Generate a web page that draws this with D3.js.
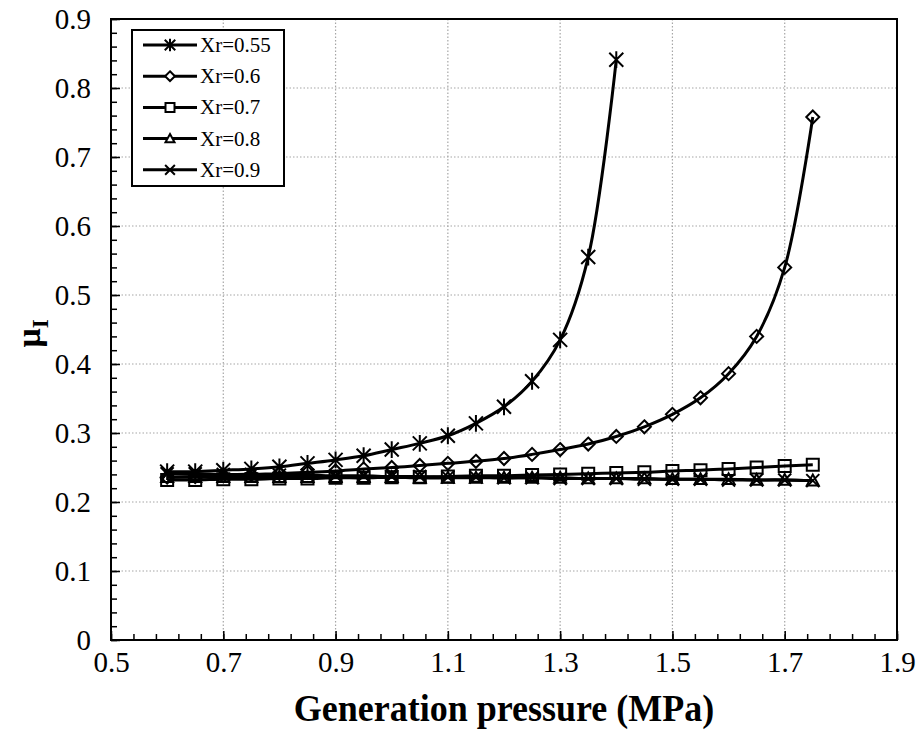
<!DOCTYPE html>
<html>
<head>
<meta charset="utf-8">
<script src="https://cdn.jsdelivr.net/npm/d3@7"></script>
<style>
    body { margin: 0; background: #fff; }
    svg { display: block; }
    svg text { font-family: "Liberation Serif", "Times New Roman", serif; }
</style>
</head>
<body>
<div id="chart"></div>
<script>
// Data
const pressureLong = [0.6, 0.65, 0.7, 0.75, 0.8, 0.85, 0.9, 0.95, 1.0, 1.05, 1.1, 1.15,
    1.2, 1.25, 1.3, 1.35, 1.4, 1.45, 1.5, 1.55, 1.6, 1.65, 1.7, 1.75];
const pressureShort = [0.6, 0.65, 0.7, 0.75, 0.8, 0.85, 0.9, 0.95, 1.0, 1.05, 1.1, 1.15,
    1.2, 1.25, 1.3, 1.35, 1.4];

const xr055 = [0.244, 0.244, 0.246, 0.248, 0.251, 0.256, 0.261, 0.267, 0.276, 0.285, 0.296, 0.314,
    0.338, 0.375, 0.435, 0.555, 0.841];
const xr06 = [0.236, 0.237, 0.238, 0.240, 0.241, 0.243, 0.245, 0.248, 0.250, 0.253, 0.256, 0.259,
    0.263, 0.269, 0.276, 0.284, 0.295, 0.309, 0.327, 0.351, 0.386, 0.440, 0.540, 0.758];
const xr07 = [0.232, 0.232, 0.233, 0.233, 0.234, 0.234, 0.235, 0.235, 0.236, 0.236, 0.237, 0.238,
    0.238, 0.239, 0.240, 0.241, 0.242, 0.243, 0.245, 0.246, 0.248, 0.250, 0.252, 0.254];
const xr08 = [0.236, 0.236, 0.236, 0.236, 0.236, 0.236, 0.236, 0.236, 0.236, 0.235, 0.235, 0.235,
    0.235, 0.235, 0.235, 0.234, 0.234, 0.234, 0.233, 0.233, 0.233, 0.232, 0.232, 0.231];
const xr09 = [0.241, 0.241, 0.240, 0.240, 0.239, 0.239, 0.238, 0.238, 0.237, 0.237, 0.236, 0.236,
    0.235, 0.235, 0.234, 0.234, 0.234, 0.233, 0.233, 0.233, 0.232, 0.232, 0.232, 0.231];

const seriesNames = ['Xr=0.55', 'Xr=0.6', 'Xr=0.7', 'Xr=0.8', 'Xr=0.9'];
const seriesMarkers = ['asterisk', 'diamond', 'square', 'triangle', 'cross'];
const xTicks = [0.5, 0.7, 0.9, 1.1, 1.3, 1.5, 1.7, 1.9];
const yTicks = [0, 0.1, 0.2, 0.3, 0.4, 0.5, 0.6, 0.7, 0.8, 0.9];

const series = [
    {name: seriesNames[0], marker: seriesMarkers[0], values: pressureShort.map((p, i) => ({p, v: xr055[i]}))},
    {name: seriesNames[1], marker: seriesMarkers[1], values: pressureLong.map((p, i) => ({p, v: xr06[i]}))},
    {name: seriesNames[2], marker: seriesMarkers[2], values: pressureLong.map((p, i) => ({p, v: xr07[i]}))},
    {name: seriesNames[3], marker: seriesMarkers[3], values: pressureLong.map((p, i) => ({p, v: xr08[i]}))},
    {name: seriesNames[4], marker: seriesMarkers[4], values: pressureLong.map((p, i) => ({p, v: xr09[i]}))}
];

const width = 920, height = 747;
const margin = {top: 19, right: 23, bottom: 107, left: 111};
const serif = '"Liberation Serif", "Times New Roman", serif';

const svg = d3.select('#chart')
    .append('svg')
    .attr('width', width)
    .attr('height', height);

const x = d3.scaleLinear()
    .domain([0.5, 1.9])
    .range([margin.left, width - margin.right]);

const y = d3.scaleLinear()
    .domain([0, 0.9])
    .range([height - margin.bottom, margin.top]);

// Dotted grid
svg.append('g')
    .selectAll('line')
    .data(yTicks.slice(1, -1))
    .enter()
    .append('line')
    .attr('x1', margin.left)
    .attr('x2', width - margin.right)
    .attr('y1', d => y(d))
    .attr('y2', d => y(d))
    .attr('stroke', '#a6a6a6')
    .attr('stroke-width', 1.2)
    .attr('stroke-dasharray', '1.5,2');

svg.append('g')
    .selectAll('line')
    .data(xTicks.slice(1, -1))
    .enter()
    .append('line')
    .attr('x1', d => x(d))
    .attr('x2', d => x(d))
    .attr('y1', margin.top)
    .attr('y2', height - margin.bottom)
    .attr('stroke', '#a6a6a6')
    .attr('stroke-width', 1.2)
    .attr('stroke-dasharray', '1.5,2');

// Axes with inward ticks
const xMinor = d3.range(0, 36).map(i => 0.5 + i * 0.04).filter(d => d < 1.9 + 1e-9);
const yMinor = d3.range(0, 46).map(i => i * 0.02).filter(d => d < 0.9 + 1e-9);

svg.append('g')
    .attr('transform', `translate(0,${height - margin.bottom})`)
    .call(d3.axisBottom(x).tickValues(xMinor).tickSize(-6).tickFormat(''))
    .call(g => g.select('.domain').remove())
    .call(g => g.selectAll('line').attr('stroke', '#000').attr('stroke-width', 1.5));

svg.append('g')
    .attr('transform', `translate(0,${height - margin.bottom})`)
    .call(d3.axisBottom(x).tickValues(xTicks).tickSize(-9).tickPadding(11).tickFormat(d3.format('.1f')))
    .call(g => g.select('.domain').remove())
    .call(g => g.selectAll('line').attr('stroke', '#000').attr('stroke-width', 1.5))
    .call(g => g.selectAll('text')
        .style('font-family', serif)
        .style('font-size', '29px')
        .attr('fill', '#000'));

svg.append('g')
    .attr('transform', `translate(${margin.left},0)`)
    .call(d3.axisLeft(y).tickValues(yMinor).tickSize(-6).tickFormat(''))
    .call(g => g.select('.domain').remove())
    .call(g => g.selectAll('line').attr('stroke', '#000').attr('stroke-width', 1.5));

svg.append('g')
    .attr('transform', `translate(${margin.left},0)`)
    .call(d3.axisLeft(y).tickValues(yTicks).tickSize(-9).tickPadding(20).tickFormat(d => d === 0 ? '0' : d3.format('.1f')(d)))
    .call(g => g.select('.domain').remove())
    .call(g => g.selectAll('line').attr('stroke', '#000').attr('stroke-width', 1.5))
    .call(g => g.selectAll('text')
        .style('font-family', serif)
        .style('font-size', '29px')
        .attr('fill', '#000'));

// Plot frame
svg.append('rect')
    .attr('x', margin.left)
    .attr('y', margin.top)
    .attr('width', width - margin.left - margin.right)
    .attr('height', height - margin.top - margin.bottom)
    .attr('fill', 'none')
    .attr('stroke', '#000')
    .attr('stroke-width', 2);

// Axis titles
svg.append('text')
    .attr('transform', `translate(${(margin.left + width - margin.right) / 2},721) scale(1,1.08)`)
    .attr('text-anchor', 'middle')
    .style('font-size', '36px')
    .attr('font-weight', 'bold')
    .attr('fill', '#000')
    .text('Generation pressure (MPa)');

const yTitle = svg.append('text')
    .attr('transform', `translate(40,${(margin.top + height - margin.bottom) / 2 + 4}) rotate(-90)`)
    .attr('text-anchor', 'middle')
    .style('font-size', '34px')
    .attr('font-weight', 'bold')
    .attr('fill', '#000');
yTitle.append('tspan').text('μ');
yTitle.append('tspan').style('font-size', '23px').attr('dy', 8).text('I');

// Marker shapes
function markerPath(type, s) {
    const h = s / 2;
    switch (type) {
        case 'asterisk':
            return `M${-h},${-h}L${h},${h}M${-h},${h}L${h},${-h}M0,${-h * 1.2}L0,${h * 1.2}`;
        case 'diamond':
            return `M0,${-h}L${h},0L0,${h}L${-h},0Z`;
        case 'square':
            return `M${-h},${-h}H${h}V${h}H${-h}Z`;
        case 'triangle':
            return `M0,${-h}L${h},${h * 0.8}L${-h},${h * 0.8}Z`;
        case 'cross':
            return `M${-h},${-h}L${h},${h}M${-h},${h}L${h},${-h}`;
    }
}
const markerSize = {asterisk: 14, diamond: 13, square: 12, triangle: 12, cross: 13};

const line = d3.line()
    .x(d => x(d.p))
    .y(d => y(d.v))
    .curve(d3.curveCatmullRom.alpha(0.5));

const plot = svg.append('g');

series.forEach(s => {
    plot.append('path')
        .datum(s.values)
        .attr('fill', 'none')
        .attr('stroke', '#000')
        .attr('stroke-width', 3)
        .attr('d', line);
});

series.forEach(s => {
    plot.selectAll(null)
        .data(s.values)
        .enter()
        .append('path')
        .attr('transform', d => `translate(${x(d.p)},${y(d.v)})`)
        .attr('d', markerPath(s.marker, markerSize[s.marker]))
        .attr('fill', 'none')
        .attr('stroke', '#000')
        .attr('stroke-width', 2);
});

// Legend
const legend = svg.append('g');
legend.append('rect')
    .attr('x', 132)
    .attr('y', 30)
    .attr('width', 152)
    .attr('height', 156)
    .attr('fill', '#fff')
    .attr('stroke', '#000')
    .attr('stroke-width', 2);

series.forEach((s, i) => {
    const ly = 45 + i * 31.2;
    const item = legend.append('g');
    item.append('line')
        .attr('x1', 143)
        .attr('x2', 197)
        .attr('y1', ly)
        .attr('y2', ly)
        .attr('stroke', '#000')
        .attr('stroke-width', 3);
    item.append('path')
        .attr('transform', `translate(170,${ly})`)
        .attr('d', markerPath(s.marker, markerSize[s.marker] * 0.75))
        .attr('fill', s.marker === 'asterisk' || s.marker === 'cross' ? 'none' : '#fff')
        .attr('stroke', '#000')
        .attr('stroke-width', 2);
    item.append('text')
        .attr('x', 200)
        .attr('y', ly + 7)
        .style('font-size', '21px')
        .attr('fill', '#000')
        .text(s.name);
});
</script>
</body>
</html>
